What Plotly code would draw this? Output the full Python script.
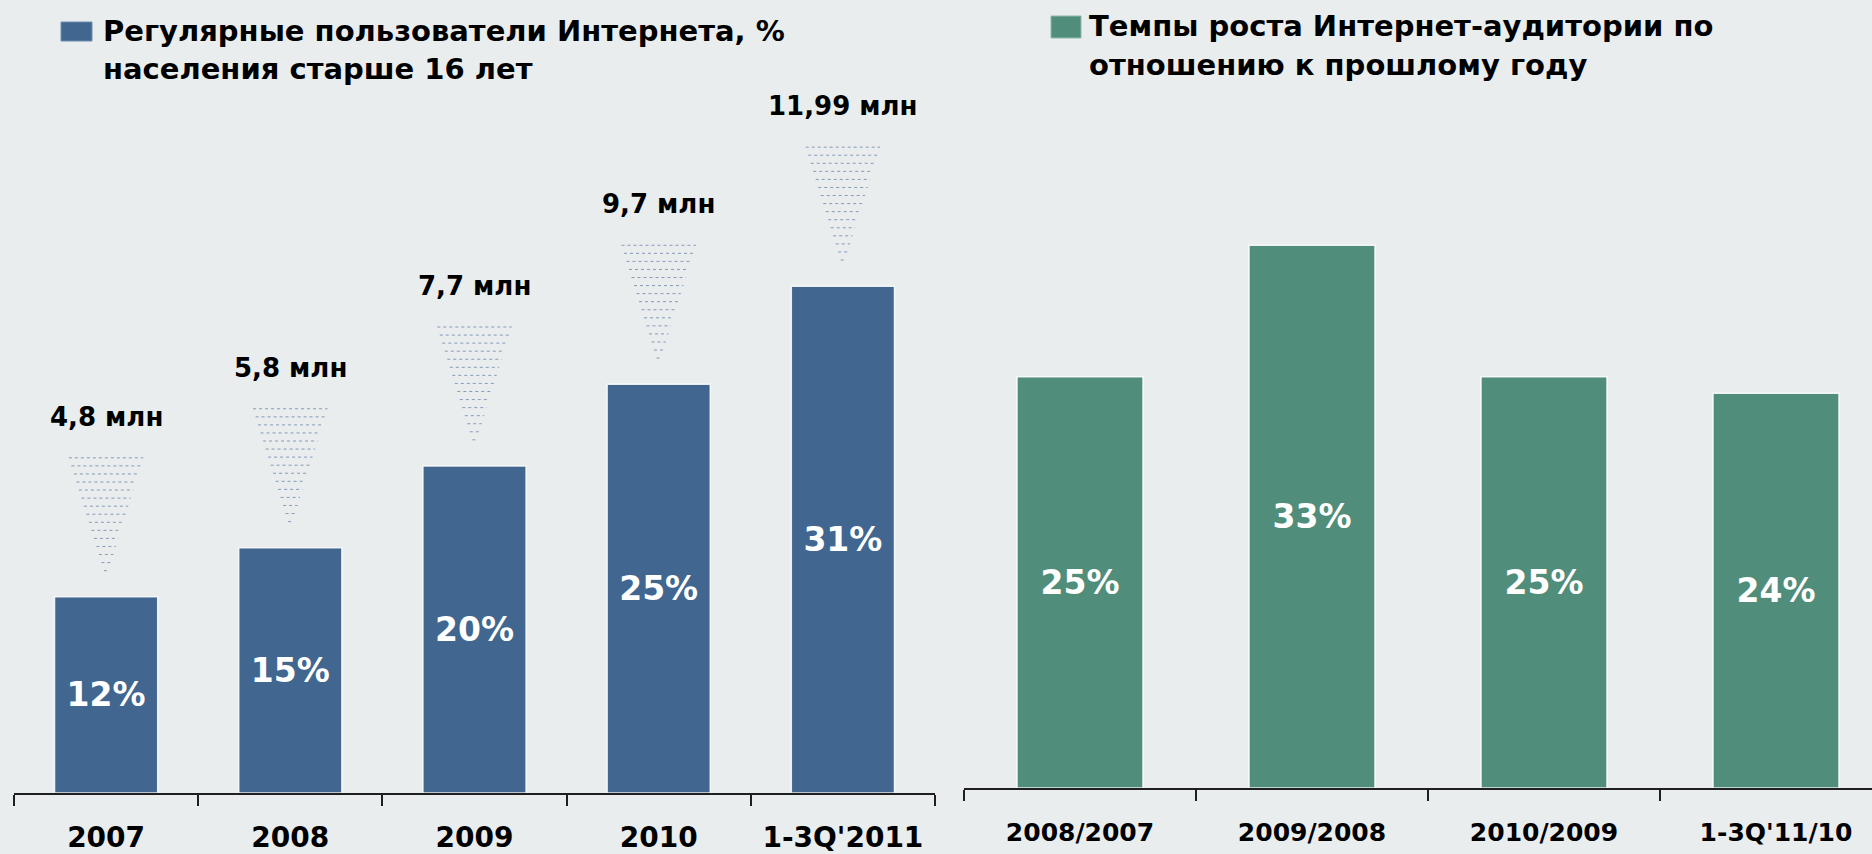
import plotly.graph_objects as go

# ---- data ----
years = ["2007", "2008", "2009", "2010", "1-3Q'2011"]
share_pct = [12, 15, 20, 25, 31]
users_labels = ["4,8 млн", "5,8 млн", "7,7 млн", "9,7 млн", "11,99 млн"]

growth_periods = ["2008/2007", "2009/2008", "2010/2009", "1-3Q'11/10"]
growth_pct = [25, 33, 25, 24]

legend_left = ["Регулярные пользователи Интернета, %", "населения старше 16 лет"]
legend_right = ["Темпы роста Интернет-аудитории по", "отношению к прошлому году"]

# ---- style ----
W, H = 1872, 854
BG = "#E9EDEE"
BLUE = "#41668F"
GREEN = "#508E7B"
FONT = "DejaVu Sans"
AXIS = "#1f1f1f"

L_AXIS_Y = 793
R_AXIS_Y = 788
L_PX_PER_UNIT = 16.35
R_PX_PER_UNIT = 16.45

fig = go.Figure()

fig.add_trace(go.Bar(
    x=years, y=share_pct, xaxis="x", yaxis="y",
    width=0.56,
    marker=dict(color=BLUE, line=dict(color="rgba(255,255,255,0.85)", width=1.5)),
    text=[f"{v}%" for v in share_pct], textposition="inside",
    insidetextanchor="middle", textangle=0, constraintext="none",
    textfont=dict(family=FONT, size=33, color="white", weight="bold"),
    hoverinfo="skip", showlegend=False,
))

fig.add_trace(go.Bar(
    x=growth_periods, y=growth_pct, xaxis="x2", yaxis="y2",
    width=0.543,
    marker=dict(color=GREEN, line=dict(color="rgba(255,255,255,0.85)", width=1.5)),
    text=[f"{v}%" for v in growth_pct], textposition="inside",
    insidetextanchor="middle", textangle=0, constraintext="none",
    textfont=dict(family=FONT, size=33, color="white", weight="bold"),
    hoverinfo="skip", showlegend=False,
))

# decorative dotted "funnels" above the left bars
tx, ty = [], []
rows = 15
for i, v in enumerate(share_pct):
    top = v + 8.5
    apex = v + 1.6
    for k in range(rows):
        f = k / (rows - 1)
        yy = top - f * (top - apex)
        hw = 0.19 * (1 - f) + 0.012
        tx += [i - hw, i + hw, None]
        ty += [yy, yy, None]
fig.add_trace(go.Scatter(
    x=tx, y=ty, xaxis="x3", yaxis="y", mode="lines",
    line=dict(color="rgba(70,100,150,0.6)", width=1, dash="dot"),
    hoverinfo="skip", showlegend=False,
))

annotations = []
for i, (v, lab) in enumerate(zip(share_pct, users_labels)):
    annotations.append(dict(
        x=i, y=v + 11, xref="x3", yref="y", text=lab, showarrow=False,
        xanchor="center", yanchor="middle",
        font=dict(family=FONT, size=26, color="black", weight="bold"),
    ))

# legends
def legend_text(x, y, txt):
    return dict(x=x / W, y=1 - y / H, xref="paper", yref="paper", text=txt,
                showarrow=False, xanchor="left", yanchor="middle",
                font=dict(family=FONT, size=29, color="black", weight="bold"))

annotations += [legend_text(101, 31, legend_left[0]), legend_text(101, 69, legend_left[1]),
                legend_text(1087, 26, legend_right[0]), legend_text(1087, 65, legend_right[1])]

shapes = [
    dict(type="rect", xref="paper", yref="paper", x0=61 / W, x1=92 / W, y0=1 - 41 / H, y1=1 - 22 / H,
         fillcolor=BLUE, line=dict(color="#6d8db0", width=1)),
    dict(type="rect", xref="paper", yref="paper", x0=1051 / W, x1=1081 / W, y0=1 - 38 / H, y1=1 - 16 / H,
         fillcolor=GREEN, line=dict(color="#8fb8aa", width=1)),
]

xcommon = dict(type="category", showline=True, linecolor=AXIS, linewidth=2,
               ticks="outside", tickson="boundaries", ticklen=11, tickcolor=AXIS, tickwidth=1.5,
               showgrid=False, zeroline=False, automargin=False)

fig.update_layout(
    width=W, height=H,
    paper_bgcolor=BG, plot_bgcolor=BG,
    margin=dict(l=0, r=0, t=0, b=0),
    xaxis=dict(**xcommon, domain=[14 / W, 935 / W], range=[-0.5, 4.5], anchor="y",
               ticklabelstandoff=18,
               tickfont=dict(family=FONT, size=28, color="black", weight="bold")),
    xaxis2=dict(**xcommon, domain=[964 / W, 1.0], range=[-0.5, -0.5 + (W - 964) / 232], anchor="y2",
                ticklabelstandoff=21,
                tickfont=dict(family=FONT, size=25, color="black", weight="bold")),
    xaxis3=dict(overlaying="x", domain=[14 / W, 935 / W], range=[-0.5, 4.5], visible=False,
                anchor="y"),
    yaxis=dict(domain=[1 - L_AXIS_Y / H, 1], range=[0, L_AXIS_Y / L_PX_PER_UNIT], visible=False,
               anchor="x"),
    yaxis2=dict(domain=[1 - R_AXIS_Y / H, 1], range=[0, R_AXIS_Y / R_PX_PER_UNIT], visible=False,
                anchor="x2"),
    annotations=annotations,
    shapes=shapes,
    showlegend=False,
)

fig.write_html("out.html",
               config={"displayModeBar": False},
               post_script="document.body.style.margin='0';document.body.style.overflow='hidden';")
